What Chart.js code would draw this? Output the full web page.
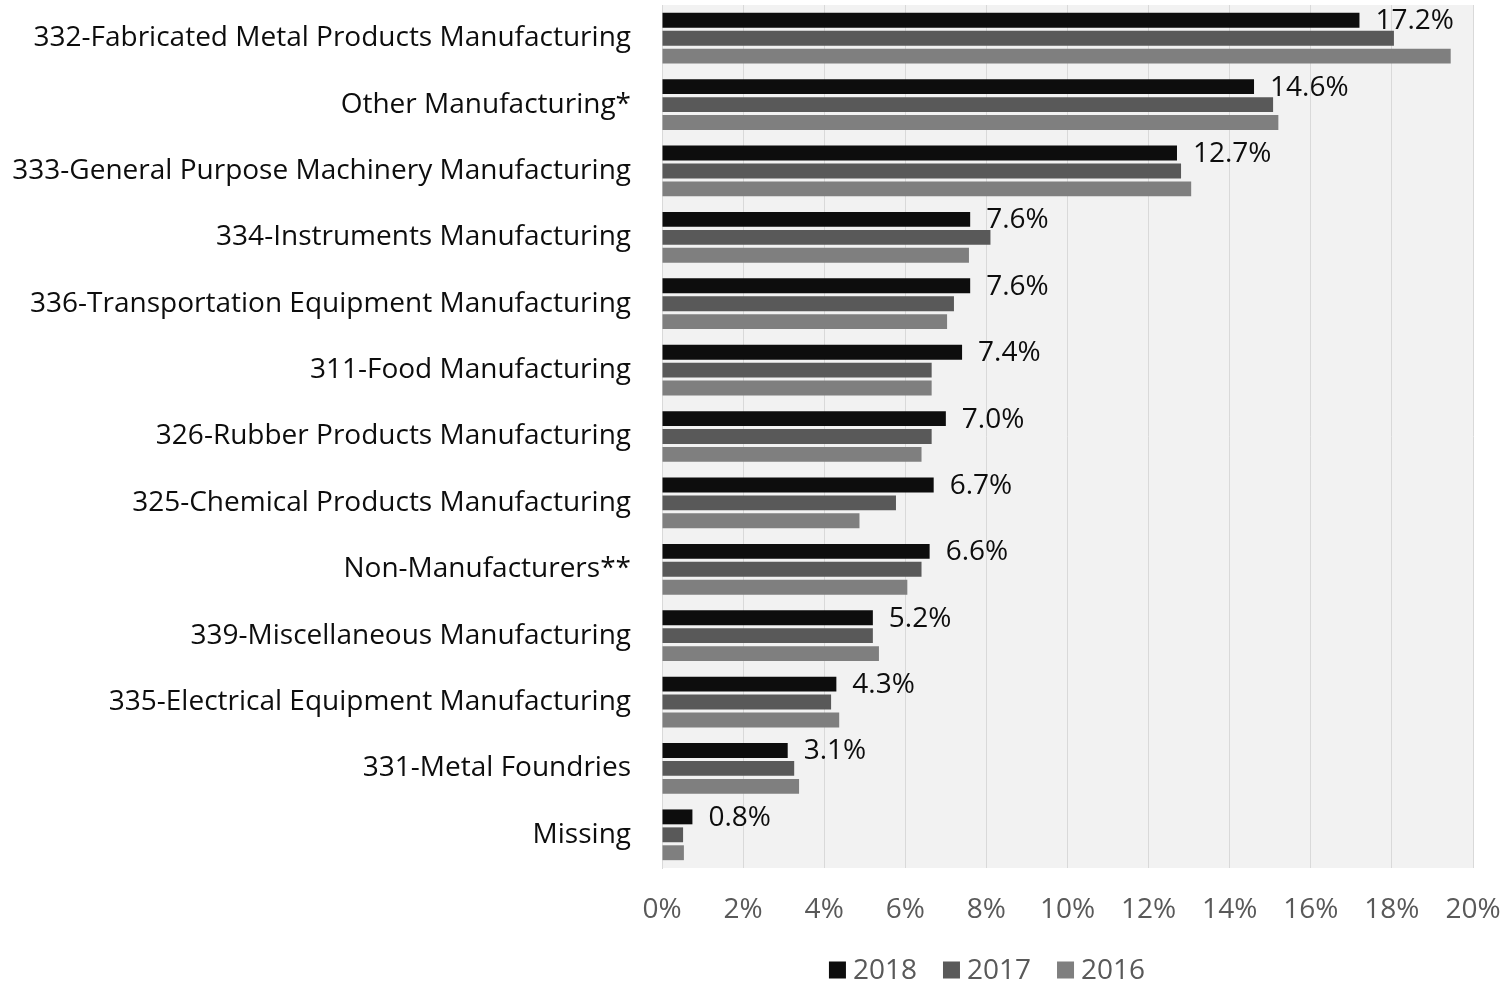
<!DOCTYPE html>
<html>
<head>
<meta charset="utf-8">
<script src="https://cdn.jsdelivr.net/npm/chart.js@4/dist/chart.umd.min.js"></script>
<style>
  html, body { margin: 0; padding: 0; background: #ffffff; }
  #wrap { width: 1504px; height: 985px; position: relative; }
</style>
</head>
<body>
<div id="wrap"><canvas id="chart" width="1504" height="985"></canvas></div>
<script>
// categories, top to bottom
const categories = [
    '332-Fabricated Metal Products Manufacturing',
    'Other Manufacturing*',
    '333-General Purpose Machinery Manufacturing',
    '334-Instruments Manufacturing',
    '336-Transportation Equipment Manufacturing',
    '311-Food Manufacturing',
    '326-Rubber Products Manufacturing',
    '325-Chemical Products Manufacturing',
    'Non-Manufacturers**',
    '339-Miscellaneous Manufacturing',
    '335-Electrical Equipment Manufacturing',
    '331-Metal Foundries',
    'Missing'
];

const values2018 = [17.2, 14.6, 12.7, 7.6, 7.6, 7.4, 7.0, 6.7, 6.6, 5.2, 4.3, 3.1, 0.75];
const values2017 = [18.05, 15.07, 12.8, 8.1, 7.2, 6.65, 6.65, 5.77, 6.4, 5.2, 4.17, 3.26, 0.52];
const values2016 = [19.45, 15.2, 13.05, 7.57, 7.03, 6.65, 6.4, 4.87, 6.05, 5.35, 4.37, 3.38, 0.54];

// labels shown at the end of the 2018 bars
const labels2018 = ['17.2%', '14.6%', '12.7%', '7.6%', '7.6%', '7.4%', '7.0%', '6.7%', '6.6%', '5.2%', '4.3%', '3.1%', '0.8%'];

const xTicks = [0, 2, 4, 6, 8, 10, 12, 14, 16, 18, 20];

const fontFamily = "'Open Sans', sans-serif";
const fontSize = 28;

// grey plot background
const plotBackground = {
    id: 'plotBackground',
    beforeDraw: (chart) => {
        const { ctx, chartArea } = chart;
        ctx.save();
        ctx.fillStyle = '#f2f2f2';
        ctx.fillRect(chartArea.left, chartArea.top, chartArea.right - chartArea.left, chartArea.bottom - chartArea.top);
        ctx.restore();
    }
};

// value labels for the first dataset
const endLabels = {
    id: 'endLabels',
    afterDatasetsDraw: (chart) => {
        const { ctx } = chart;
        const meta = chart.getDatasetMeta(0);
        ctx.save();
        ctx.font = fontSize + 'px ' + fontFamily;
        ctx.fillStyle = '#0d0d0d';
        ctx.textAlign = 'left';
        ctx.textBaseline = 'middle';
        meta.data.forEach((bar, i) => {
            ctx.fillText(labels2018[i], bar.x + 16, bar.y + 1);
        });
        ctx.restore();
    }
};

// legend drawn by hand so the box/text spacing can follow the original
const bottomLegend = {
    id: 'bottomLegend',
    afterDraw: (chart) => {
        const { ctx } = chart;
        const box = 17, gapAfterBox = 7, gapBetween = 26;
        const centerX = 987, centerY = 970;
        ctx.save();
        ctx.font = fontSize + 'px ' + fontFamily;
        ctx.textBaseline = 'middle';
        ctx.textAlign = 'left';
        const items = chart.data.datasets.map(ds => ({
            text: ds.label,
            color: ds.backgroundColor,
            width: box + gapAfterBox + ctx.measureText(ds.label).width
        }));
        const total = items.reduce((s, it) => s + it.width, 0) + gapBetween * (items.length - 1);
        let x = centerX - total / 2;
        items.forEach(it => {
            ctx.fillStyle = it.color;
            ctx.fillRect(x, centerY - box / 2, box, box);
            ctx.fillStyle = '#595959';
            ctx.fillText(it.text, x + box + gapAfterBox, centerY + 1);
            x += it.width + gapBetween;
        });
        ctx.restore();
    }
};

new Chart(document.getElementById('chart').getContext('2d'), {
    type: 'bar',
    data: {
        labels: categories,
        datasets: [
            { label: '2018', data: values2018, backgroundColor: '#0d0d0d' },
            { label: '2017', data: values2017, backgroundColor: '#595959' },
            { label: '2016', data: values2016, backgroundColor: '#7f7f7f' }
        ]
    },
    options: {
        indexAxis: 'y',
        animation: false,
        responsive: false,
        datasets: {
            bar: {
                barPercentage: 0.83,
                categoryPercentage: 0.81,
                borderWidth: 0
            }
        },
        layout: {
            autoPadding: false,
            padding: { left: 0, right: 31, top: 5, bottom: 55 }
        },
        plugins: {
            legend: { display: false },
            tooltip: { enabled: false }
        },
        scales: {
            x: {
                min: 0,
                max: 20,
                afterBuildTicks: (scale) => {
                    scale.ticks = xTicks.map(v => ({ value: v }));
                },
                afterFit: (scale) => {
                    scale.height = 62;
                    scale.paddingLeft = 0;
                    scale.paddingRight = 0;
                },
                grid: {
                    color: '#d9d9d9',
                    lineWidth: 1,
                    drawTicks: false
                },
                border: { display: false },
                ticks: {
                    padding: 25,
                    color: '#595959',
                    font: { family: fontFamily, size: fontSize },
                    callback: (v) => v + '%'
                }
            },
            y: {
                afterFit: (scale) => {
                    scale.width = 662;
                    scale.paddingTop = 0;
                    scale.paddingBottom = 0;
                },
                grid: { display: false, drawTicks: false },
                border: { display: true, color: '#d9d9d9' },
                ticks: {
                    padding: 31,
                    color: '#0d0d0d',
                    font: { family: fontFamily, size: fontSize }
                }
            }
        }
    },
    plugins: [plotBackground, endLabels, bottomLegend]
});
</script>
</body>
</html>
